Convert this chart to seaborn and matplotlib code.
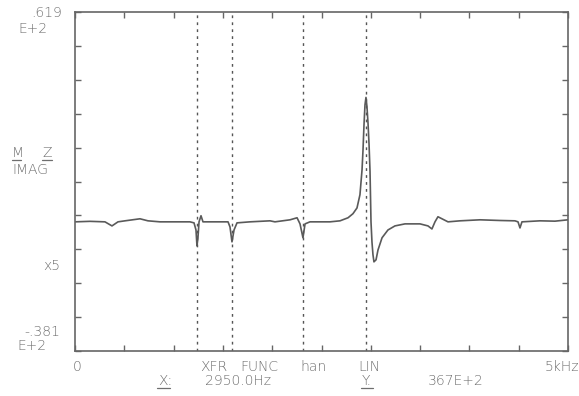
import matplotlib
matplotlib.use("Agg")
import matplotlib.pyplot as plt
from matplotlib.lines import Line2D
import seaborn as sns
import pandas as pd

# ---- data (frequency in Hz, imag response in units of E+2) ----
freq_hz = [0, 152, 304, 375, 436, 507, 659, 740, 862, 1166, 1207, 1227, 1237, 1247,
           1258, 1278, 1298, 1552, 1572, 1592, 1613, 1643, 1775, 1978, 2028, 2181,
           2252, 2282, 2312, 2333, 2383, 2586, 2688, 2769, 2819, 2860, 2890, 2911,
           2921, 2931, 2941, 2951, 2961, 2972, 2982, 2992, 3002, 3012, 3022, 3032,
           3053, 3073, 3114, 3174, 3245, 3347, 3499, 3580, 3620, 3651, 3681, 3722,
           3783, 3905, 4108, 4310, 4462, 4493, 4513, 4533, 4716, 4868, 5000]
imag_resp = [0.0, 0.15, 0.0, -1.2, 0.0, 0.3, 0.9, 0.3, 0.0, 0.0, -0.3, -2.4, -7.1, -4.7,
             0.0, 1.8, 0.0, 0.0, -1.5, -5.9, -2.4, -0.3, 0.0, 0.3, 0.0, 0.6,
             1.2, -0.6, -4.7, -0.6, 0.0, 0.0, 0.3, 1.2, 2.4, 4.1, 8.0, 15.3,
             21.2, 28.6, 34.5, 36.7, 34.0, 29.0, 23.0, 15.0, 0.0, -6.0, -9.7, -11.8,
             -11.2, -8.3, -4.7, -2.4, -1.2, -0.6, -0.6, -1.2, -2.1, 0.0, 1.5, 0.9,
             0.0, 0.3, 0.6, 0.4, 0.3, 0.0, -1.8, 0.0, 0.3, 0.2, 0.6]
cursor_hz = [1237, 1592, 2312, 2950]
y_top, y_bottom = 61.9, -38.1
x_max = 5000

sns.set_style("white")
plt.rcParams["font.family"] = ["DejaVu Sans"]

W, H = 579, 396
fig = plt.figure(figsize=(W / 100, H / 100), dpi=100)

def fx(px):
    return px / W

def fy(py):
    return 1 - py / H

ax = fig.add_axes([fx(75), fy(351), fx(568) - fx(75), fy(12) - fy(351)])

df = pd.DataFrame({"freq": freq_hz, "imag": imag_resp})
sns.lineplot(data=df, x="freq", y="imag", ax=ax, color="#5a5a5a", linewidth=1.2,
             sort=False, estimator=None)

for c in cursor_hz:
    ax.axvline(c, color="#555555", linewidth=1.0, linestyle=(0, (2, 3)))

ax.set_xlim(0, x_max)
ax.set_ylim(y_bottom, y_top)
ax.set_xticks([i * 500 for i in range(11)])
ax.set_yticks([y_top - 10 * i for i in range(11)])
ax.tick_params(direction="in", length=4, width=1, color="#666666",
               top=True, right=True, bottom=True, left=True,
               labelbottom=False, labelleft=False)
ax.set_xlabel("")
ax.set_ylabel("")
for s in ax.spines.values():
    s.set_color("#666666")
    s.set_linewidth(1.2)
    s.set_visible(True)

tc = "#6e6e6e"
fs = 10

def t(px, py, s, ha="left"):
    fig.text(fx(px), fy(py), s, ha=ha, va="center", fontsize=fs, color=tc,
             fontweight="light")

def uline(px0, px1, py):
    fig.add_artist(Line2D([fx(px0), fx(px1)], [fy(py), fy(py)],
                          transform=fig.transFigure, color=tc, linewidth=0.9))

t(62, 13, ".619", ha="right")
t(18, 29, "E+2")
t(12, 153, "M")
t(42, 153, "Z")
uline(12, 21, 160)
uline(42, 52, 160)
t(12, 170, "IMAG")
t(60, 266, "x5", ha="right")
t(60, 332, "-.381", ha="right")
t(17, 346, "E+2")
t(77, 367, "0", ha="center")
t(200, 367, "XFR")
t(240, 367, "FUNC")
t(300, 367, "han")
t(358, 367, "LIN")
t(579, 367, "5kHz", ha="right")
t(158, 381, "X:")
uline(157, 170, 388)
t(205, 381, "2950.0Hz")
t(362, 381, "Y.")
uline(361, 373, 388)
t(428, 381, "367E+2")

fig.savefig("out.png", dpi=100)
